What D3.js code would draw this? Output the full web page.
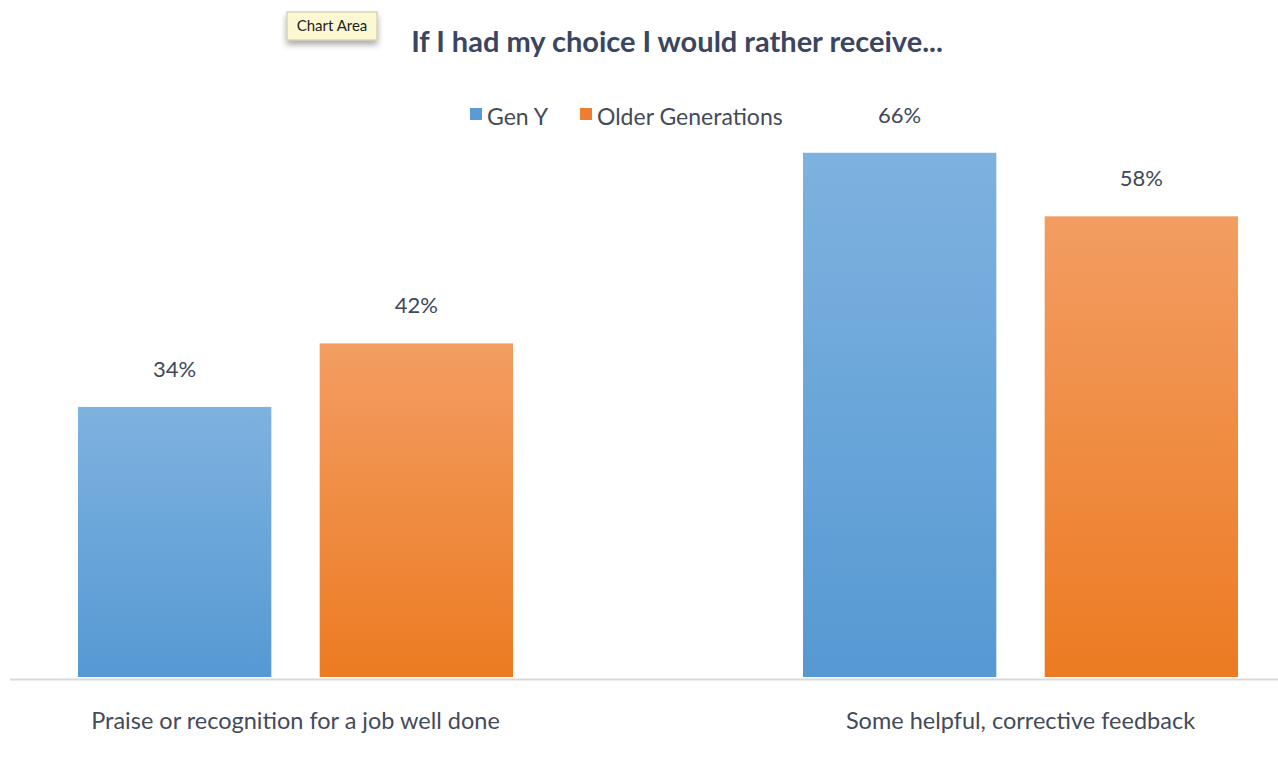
<!DOCTYPE html>
<html>
<head>
<meta charset="utf-8">
<style>
  body { margin: 0; background: #fff; font-family: Lato, "Open Sans", sans-serif; }
</style>
</head>
<body>
<div id="chart"></div>
<script src="https://d3js.org/d3.v7.min.js"></script>
<script>
// data
var categories = ["Praise or recognition for a job well done", "Some helpful, corrective feedback"];
var seriesNames = ["Gen Y", "Older Generations"];
var genY = [34, 66];
var older = [42, 58];

var W = 1278, H = 767;
var baseline = 677;

var svg = d3.select("#chart").append("svg")
    .attr("width", W)
    .attr("height", H);

// gradients, lighter at the top like the original
var defs = svg.append("defs");
var grads = [
  { id: "gBlue", top: "#7eb2df", bottom: "#5699d3" },
  { id: "gOrange", top: "#f39d62", bottom: "#ec7b22" }
];
grads.forEach(function(g) {
  var lg = defs.append("linearGradient").attr("id", g.id)
      .attr("x1", 0).attr("y1", 0).attr("x2", 0).attr("y2", 1);
  lg.append("stop").attr("offset", "0%").attr("stop-color", g.top);
  lg.append("stop").attr("offset", "100%").attr("stop-color", g.bottom);
});
var shadow = defs.append("filter").attr("id", "shadow")
    .attr("x", "-20%").attr("y", "-20%").attr("width", "150%").attr("height", "180%");
shadow.append("feDropShadow").attr("dx", 0).attr("dy", 4).attr("stdDeviation", 3)
    .attr("flood-color", "#000").attr("flood-opacity", 0.35);

var color = d3.scaleOrdinal().domain(seriesNames).range(["url(#gBlue)", "url(#gOrange)"]);
var legendColor = d3.scaleOrdinal().domain(seriesNames).range(["#5b9bd5", "#ed7d31"]);

// scales
var x0 = d3.scaleBand().domain(categories).range([-67, 1383]).paddingInner(0.4).paddingOuter(0.2);
var x1 = d3.scaleBand().domain(seriesNames).range([0, x0.bandwidth()]).paddingInner(0.2);
var y = d3.scaleLinear().domain([0, 70]).range([baseline, 121]);

var rows = categories.map(function(c, i) {
  return { cat: c, values: [ { key: seriesNames[0], v: genY[i] }, { key: seriesNames[1], v: older[i] } ] };
});

// axis line
svg.append("line")
    .attr("x1", 10).attr("x2", W)
    .attr("y1", baseline + 2.5).attr("y2", baseline + 2.5)
    .attr("stroke", "#d9d9d9").attr("stroke-width", 2);

var groups = svg.selectAll("g.grp")
    .data(rows)
    .enter().append("g")
      .attr("class", "grp")
      .attr("transform", function(d) { return "translate(" + x0(d.cat) + ",0)"; });

groups.selectAll("rect")
    .data(function(d) { return d.values; })
    .enter().append("rect")
      .attr("x", function(d) { return x1(d.key); })
      .attr("y", function(d) { return y(d.v); })
      .attr("width", x1.bandwidth())
      .attr("height", function(d) { return y(0) - y(d.v); })
      .attr("fill", function(d) { return color(d.key); });

groups.selectAll("text.val")
    .data(function(d) { return d.values; })
    .enter().append("text")
      .attr("class", "val")
      .attr("x", function(d) { return x1(d.key) + x1.bandwidth() / 2; })
      .attr("y", function(d) { return y(d.v) - 30; })
      .attr("text-anchor", "middle")
      .style("font-size", "22px")
      .attr("fill", "#3e4859")
      .text(function(d) { return d.v + "%"; });

// category labels
svg.selectAll("text.cat")
    .data(categories)
    .enter().append("text")
      .attr("class", "cat")
      .attr("x", function(d) { return x0(d) + x0.bandwidth() / 2; })
      .attr("y", 729)
      .attr("text-anchor", "middle")
      .style("font-size", "23.5px")
      .attr("fill", "#434b59")
      .text(function(d) { return d; });

// title
svg.append("text")
    .attr("x", 677)
    .attr("y", 52)
    .attr("text-anchor", "middle")
    .style("font-size", "29px")
    .style("font-weight", "bold")
    .attr("fill", "#3a4660")
    .text("If I had my choice I would rather receive...");

// legend
var legendX = [470, 580];
var legend = svg.selectAll("g.leg")
    .data(seriesNames)
    .enter().append("g")
      .attr("class", "leg")
      .attr("transform", function(d, i) { return "translate(" + legendX[i] + ",0)"; });
legend.append("rect")
    .attr("x", 0).attr("y", 108)
    .attr("width", 12).attr("height", 12)
    .attr("fill", function(d) { return legendColor(d); });
legend.append("text")
    .attr("x", 17).attr("y", 125)
    .style("font-size", "23px")
    .attr("fill", "#434b59")
    .text(function(d) { return d; });

// "Chart Area" hover tip as in the screenshot
var tip = svg.append("g").attr("transform", "translate(287,12)");
tip.append("rect")
    .attr("width", 90).attr("height", 28)
    .attr("fill", "#fbf8d2")
    .attr("stroke", "#c9c6a6")
    .attr("filter", "url(#shadow)");
tip.append("text")
    .attr("x", 45).attr("y", 19)
    .attr("text-anchor", "middle")
    .style("font-size", "15px")
    .attr("fill", "#222")
    .text("Chart Area");
</script>
</body>
</html>
